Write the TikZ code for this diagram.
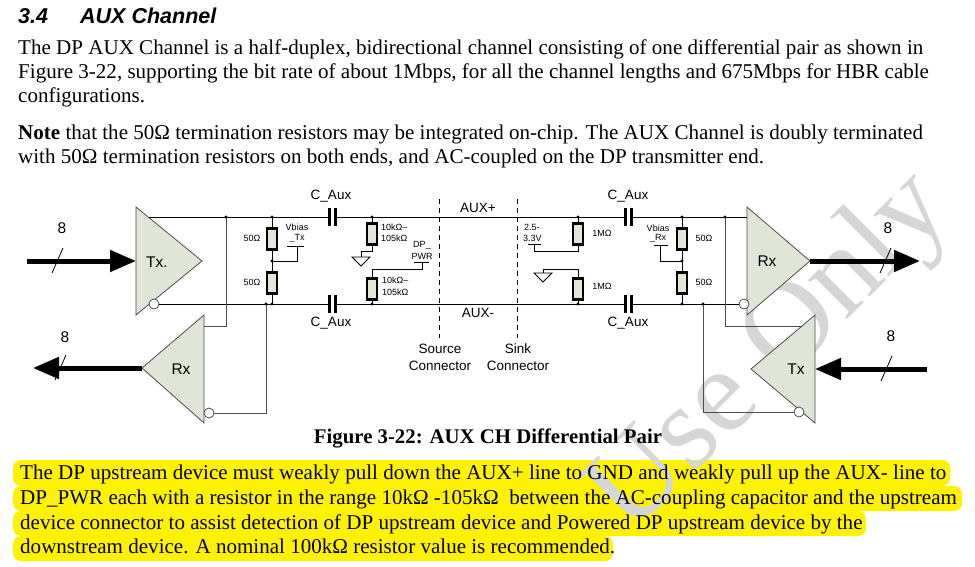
\documentclass[tikz,border=0pt]{standalone}
\usepackage{fontspec}
\setmainfont{Liberation Serif}
\setsansfont{Liberation Sans}
\usetikzlibrary{arrows.meta}
\definecolor{ampfill}{RGB}{224,229,216}
\definecolor{resfill}{RGB}{226,230,214}
\definecolor{wmark}{RGB}{214,214,214}
\tikzset{
  amp/.style={draw=black!70,fill=ampfill,line width=0.8pt},
  wire/.style={line width=0.9pt},
  feed/.style={line width=0.9pt,draw=black!70},
  res/.style={draw,line width=2.6pt,fill=resfill,minimum width=10pt,minimum height=20.5pt,inner sep=0pt},
  plate/.style={line width=3pt},
  bus/.style={line width=5pt,-{Triangle[length=26pt,width=21pt]}},
  slash/.style={line width=0.8pt},
  dot/.style={circle,fill,inner sep=0pt,minimum size=3.4pt},
  bubble/.style={circle,draw=black!70,fill=white,line width=0.8pt,inner sep=0pt,minimum size=10pt},
  conn/.style={line width=0.8pt,dash pattern=on 5pt off 4pt},
  lbl/.style={font=\sffamily\fontsize{13.5}{14}\selectfont,inner sep=0pt},
  amplbl/.style={font=\sffamily\fontsize{15.5}{16}\selectfont,inner sep=0pt},
  tiny/.style={font=\sffamily\fontsize{9}{10}\selectfont,inner sep=0pt},
  body/.style={anchor=base west,inner sep=0pt,font=\fontsize{21.05}{24}\selectfont},
  hl/.style={fill=yellow,rounded corners=8pt},
}
\begin{document}
\begin{tikzpicture}[x=1pt,y=-1pt]
  \useasboundingbox (0,0) rectangle (975,567);
  \fill[white] (0,0) rectangle (975,567);

  % heading and text above the figure
  \node[anchor=base west,inner sep=0pt,font=\sffamily\bfseries\itshape\fontsize{21.5}{24}\selectfont] (secno) at (18,24) {3.4};
  \node[anchor=base west,inner sep=0pt,font=\sffamily\bfseries\itshape\fontsize{21.5}{24}\selectfont] (sectitle) at (80,24) {AUX Channel};
  \node[body] (pa) at (18,55) {The DP AUX Channel is a half-duplex, bidirectional channel consisting of one differential pair as shown in};
  \node[body] (pb) at (18,79) {Figure 3-22, supporting the bit rate of about 1Mbps, for all the channel lengths and 675Mbps for HBR cable};
  \node[body] (pc) at (18,103) {configurations.};
  \node[body] (pd) at (18,140) {\textbf{Note} that the 50Ω termination resistors may be integrated on-chip. The AUX Channel is doubly terminated};
  \node[body] (pe) at (18,164) {with 50Ω termination resistors on both ends, and AC-coupled on the DP transmitter end.};

  % highlighted paragraph
  \fill[hl] (13,460) rectangle (950,486);
  \fill[hl] (13,486) rectangle (962,511);
  \fill[hl] (13,511) rectangle (866,536);
  \fill[hl] (13,536) rectangle (613,561);

  % watermark
  \node[rotate=45,text=wmark,inner sep=0pt,font=\fontsize{120}{120}\selectfont] (wm) at (772,354) {Use Only};

  \node[body] (ha) at (20,479) {The DP upstream device must weakly pull down the AUX+ line to GND and weakly pull up the AUX- line to};
  \node[body] (hb) at (20,504) {DP\_PWR each with a resistor in the range 10kΩ -105kΩ \ between the AC-coupling capacitor and the upstream};
  \node[body] (hc) at (20,529) {device connector to assist detection of DP upstream device and Powered DP upstream device by the};
  \node[body] (hd) at (20,553) {downstream device. A nominal 100kΩ resistor value is recommended.};

  \node[anchor=base,inner sep=0pt,font=\bfseries\fontsize{20.8}{22}\selectfont] (caption) at (488,443) {Figure 3-22: AUX CH Differential Pair};

  % junctions
  \coordinate (jLa) at (226,217);
  \coordinate (jLb) at (266,304);
  \coordinate (jTa) at (272,217);
  \coordinate (jTm) at (272,261);
  \coordinate (jTb) at (272,304);
  \coordinate (jSa) at (372,217);
  \coordinate (jSb) at (372,304);
  \coordinate (jKa) at (578,217);
  \coordinate (jKb) at (578,304);
  \coordinate (jRa) at (682,217);
  \coordinate (jRm) at (682,261);
  \coordinate (jRb) at (682,304);
  \coordinate (jRc) at (725,217);
  \coordinate (jRd) at (703,304);

  % amplifiers
  \draw[amp] (136,207) -- (202,261) coordinate (txTipL) -- (136,315) -- cycle;
  \draw[amp] (204,315) -- (142,368) coordinate (rxTipL) -- (204,423) -- cycle;
  \draw[amp] (747,207) -- (810,261) coordinate (rxTipR) -- (747,315) -- cycle;
  \draw[amp] (815,315) -- (751,369) coordinate (txTipR) -- (815,423) -- cycle;
  \coordinate (txInL) at (136,261);
  \coordinate (txPL) at (149,217);
  \coordinate (rxPL) at (204,326);
  \coordinate (rxPR) at (747,217);
  \coordinate (txPR) at (802,326);
  \coordinate (txInR) at (815,369);
  \node[bubble] (txNL) at (154,304) {};
  \node[bubble] (rxNL) at (209,413) {};
  \node[bubble] (rxNR) at (744,304) {};
  \node[bubble] (txNR) at (799,412) {};
  \node[amplbl] (txL) at (157,262) {Tx.};
  \node[amplbl] (rxL) at (181,369) {Rx};
  \node[amplbl] (rxR) at (767,261) {Rx};
  \node[amplbl] (txR) at (796,369) {Tx};

  % capacitors C_Aux
  \foreach \n/\cx/\cy in {ca/332/217,cb/332/304,cc/628/217,cd/628/304}{
    \coordinate (\n L) at (\cx-3,\cy);
    \coordinate (\n R) at (\cx+3,\cy);
    \draw[plate] (\cx-3,\cy-9) -- (\cx-3,\cy+9);
    \draw[plate] (\cx+3,\cy-9) -- (\cx+3,\cy+9);
  }
  \node[lbl] (caT) at (331,196) {C\_Aux};
  \node[lbl] (caB) at (331,323) {C\_Aux};
  \node[lbl] (ccT) at (628,196) {C\_Aux};
  \node[lbl] (ccB) at (628,323) {C\_Aux};

  % AUX+ and AUX- lines
  \draw[wire] (txPL) -- (caL) (caR) -- (ccL) (ccR) -- (rxPR);
  \draw[wire] (txNL.east) -- (cbL) (cbR) -- (cdL) (cdR) -- (rxNR.west);

  % receiver / transmitter feeds
  \draw[feed] (jLa) |- (rxPL);
  \draw[feed] (jLb) |- (rxNL.east);
  \draw[feed] (jRc) |- (txPR);
  \draw[feed] (jRd) |- (txNR.west);

  % source termination and Vbias_Tx
  \draw[wire] (jTa) -- (jTb);
  \coordinate (vbT) at (297,246);
  \draw[wire] (jTm) -| (vbT);
  \draw[wire] ([xshift=-10pt]vbT) -- ([xshift=7pt]vbT);
  \node[res] (rTa) at (272,239) {};
  \node[res] (rTb) at (272,283) {};
  \node[tiny] (lTa) at (252,238) {50Ω};
  \node[tiny] (lTb) at (252,282) {50Ω};
  \node[tiny] (vbTa) at (297,227) {Vbias};
  \node[tiny] (vbTb) at (297,238) {\_Tx};

  % weak pull down / pull up
  \coordinate (gS) at (361,257);
  \coordinate (pwr) at (422,262);
  \draw[wire] (jSa) -- (372,251) -| (gS);
  \draw[wire] (gS) ++(-9,0) -- ++(18,0) -- ++(-9,9) -- cycle;
  \draw[wire] (jSb) -- (372,269) -| (pwr);
  \draw[wire] ([xshift=-8pt]pwr) -- ([xshift=7pt]pwr);
  \node[res] (rSa) at (372,234) {};
  \node[res] (rSb) at (372,289) {};
  \node[tiny,anchor=west] (lSa) at (381,227) {10kΩ–};
  \node[tiny,anchor=west] (lSb) at (381,238) {105kΩ};
  \node[tiny,anchor=west] (lSc) at (382,280) {10kΩ–};
  \node[tiny,anchor=west] (lSd) at (382,292) {105kΩ};
  \node[tiny] (dpa) at (422,245) {DP\_};
  \node[tiny] (dpb) at (422,256) {PWR};

  % connectors
  \draw[conn] (439,199) coordinate (srcT) -- (439,338) coordinate (srcB);
  \draw[conn] (517,199) coordinate (snkT) -- (517,338) coordinate (snkB);
  \node[lbl] (auxp) at (478,208) {AUX+};
  \node[lbl] (auxn) at (478,313) {AUX-};
  \node[lbl] (srcA) at (440,349) {Source};
  \node[lbl] (srcC) at (440,366) {Connector};
  \node[lbl] (snkA) at (518,349) {Sink};
  \node[lbl] (snkC) at (518,366) {Connector};

  % sink bias
  \coordinate (vSk) at (534,244);
  \coordinate (gK) at (543,273);
  \draw[wire] (jKa) -- (578,251) -| (vSk);
  \draw[wire] ([xshift=-6pt]vSk) -- ([xshift=7pt]vSk);
  \draw[wire] (jKb) -- (578,269) -| (gK);
  \draw[wire] (gK) ++(-9,0) -- ++(18,0) -- ++(-9,9) -- cycle;
  \node[res] (rKa) at (578,234) {};
  \node[res] (rKb) at (578,289) {};
  \node[tiny,anchor=west] (vKa) at (524,227) {2.5-};
  \node[tiny,anchor=west] (vKb) at (523,238) {3.3V};
  \node[tiny] (lKa) at (602,233) {1MΩ};
  \node[tiny] (lKb) at (602,286) {1MΩ};

  % sink termination and Vbias_Rx
  \draw[wire] (jRa) -- (jRb);
  \coordinate (vbR) at (660,245);
  \draw[wire] (jRm) -| (vbR);
  \draw[wire] ([xshift=-6pt]vbR) -- ([xshift=8pt]vbR);
  \node[res] (rRa) at (682,239) {};
  \node[res] (rRb) at (682,283) {};
  \node[tiny] (lRa) at (704,238) {50Ω};
  \node[tiny] (lRb) at (704,282) {50Ω};
  \node[tiny] (vbRa) at (658,228) {Vbias};
  \node[tiny] (vbRb) at (658,238) {\_Rx};

  \foreach \j in {jLa,jLb,jTa,jTm,jTb,jSa,jSb,jKa,jKb,jRa,jRm,jRb,jRc,jRd}
    \node[dot] at (\j) {};

  % 8 bit buses
  \coordinate (inL) at (27,261);
  \coordinate (outL) at (33,368);
  \coordinate (outR) at (920,261);
  \coordinate (inR) at (927,369);
  \draw[bus] (inL) -- (txInL);
  \draw[bus] (rxTipL) -- (outL);
  \draw[bus] (rxTipR) -- (outR);
  \draw[bus] (inR) -- (txInR);
  \foreach \sx/\sy in {57/261,60/368,885/261,886/369}
    \draw[slash] (\sx-5,\sy+12) -- (\sx+6,\sy-13);
  \node[amplbl] (wa) at (62,228) {8};
  \node[amplbl] (wb) at (65,337) {8};
  \node[amplbl] (wc) at (888,228) {8};
  \node[amplbl] (wd) at (891,336) {8};
\end{tikzpicture}
\end{document}
